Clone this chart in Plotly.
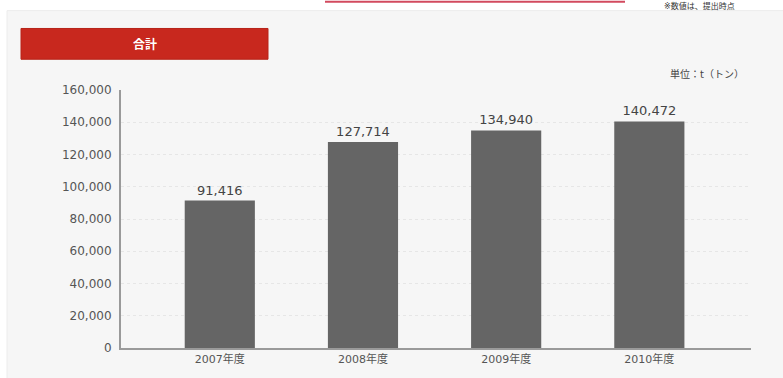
import plotly.graph_objects as go

categories = ["2007年度", "2008年度", "2009年度", "2010年度"]
values = [91416, 127714, 134940, 140472]
value_labels = ["91,416", "127,714", "134,940", "140,472"]
tick_vals = [0, 20000, 40000, 60000, 80000, 100000, 120000, 140000, 160000]
tick_text = ["0", "20,000", "40,000", "60,000", "80,000", "100,000", "120,000", "140,000", "160,000"]

W, H = 783, 378
L, R, T, B = 121, 751, 90, 350

def px(x):
    return (x - L) / (R - L)

def py(y):
    return (B - y) / (B - T)

font_fam = "DejaVu Sans, Noto Sans CJK JP, sans-serif"

fig = go.Figure()
fig.add_trace(go.Bar(
    x=list(range(len(categories))), y=values,
    marker=dict(color="#656565", line=dict(width=0)),
    width=0.49,
    text=value_labels, textposition="outside",
    textfont=dict(family=font_fam, size=13, color="#444444"),
    cliponaxis=False,
    hoverinfo="skip",
))

shapes = [
    # panel
    dict(type="rect", xref="paper", yref="paper", x0=px(7), x1=px(790), y0=py(385), y1=py(10),
         fillcolor="#f6f6f6", line=dict(color="#ececec", width=1), layer="below"),
    # red title button
    dict(type="rect", xref="paper", yref="paper", x0=px(21), x1=px(268), y0=py(59), y1=py(28),
         fillcolor="#c8281e", line=dict(color="#b82218", width=1), layer="above"),
    # top red line
    dict(type="line", xref="paper", yref="paper", x0=px(325), x1=px(625), y0=py(1), y1=py(1),
         line=dict(color="#d24a5e", width=2)),
]

annotations = [
    dict(text="<b>合計</b>", xref="paper", yref="paper", x=px(145), y=py(44),
         showarrow=False, font=dict(family=font_fam, size=12, color="white"),
         xanchor="center", yanchor="middle"),
    dict(text="単位：t（トン）", xref="paper", yref="paper", x=px(746), y=py(74),
         showarrow=False, font=dict(family=font_fam, size=10, color="#444444"),
         xanchor="right", yanchor="middle"),
    dict(text="※数値は、提出時点", xref="paper", yref="paper", x=px(662), y=py(5),
         showarrow=False, font=dict(family=font_fam, size=8, color="#333333"),
         xanchor="left", yanchor="middle"),
]

fig.update_layout(
    width=W, height=H,
    margin=dict(l=L, r=W - R, t=T, b=H - B, pad=0),
    paper_bgcolor="white", plot_bgcolor="#f6f6f6",
    showlegend=False,
    shapes=shapes, annotations=annotations,
    bargap=0.5,
)
fig.update_xaxes(
    tickvals=list(range(len(categories))), ticktext=categories,
    range=[-0.69, 3.71], showgrid=False, zeroline=False,
    showline=True, linecolor="#9a9a9a", linewidth=2,
    ticks="", tickfont=dict(family=font_fam, size=11, color="#555555"),
    fixedrange=True,
)
fig.update_yaxes(
    range=[0, 160000], tickvals=tick_vals, ticktext=tick_text,
    showgrid=True, gridcolor="#e6e6e6", griddash="dot", gridwidth=1,
    zeroline=False, showline=True, linecolor="#9a9a9a", linewidth=2,
    ticks="", ticklabelstandoff=5,
    tickfont=dict(family=font_fam, size=12, color="#555555"),
    fixedrange=True,
)

fig.write_html("out.html", config={"displayModeBar": False})
